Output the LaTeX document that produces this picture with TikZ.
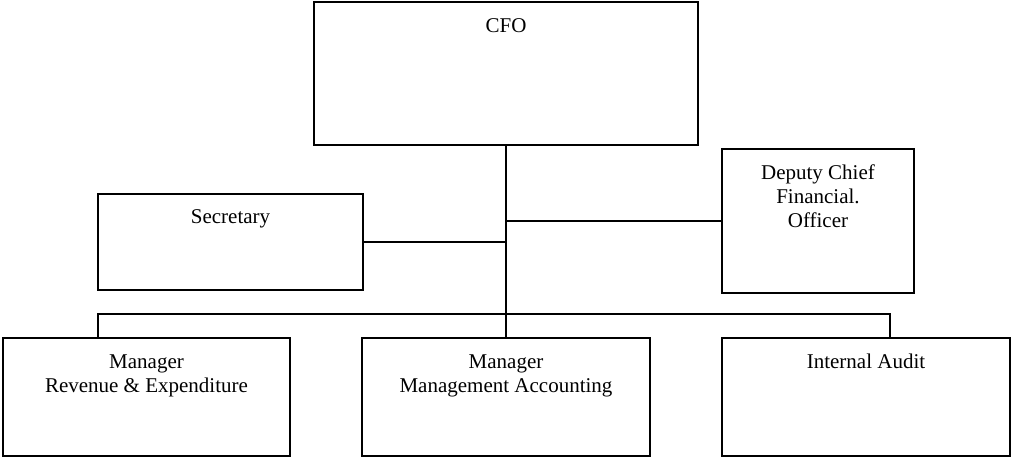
\documentclass[tikz,border=0pt]{standalone}
\usepackage{fontspec}
\setmainfont{Liberation Serif}
\begin{document}
\begin{tikzpicture}[x=1pt,y=-1pt,
  orgbox/.style={draw=black,line width=1.4pt,rectangle,inner sep=0pt,outer sep=0pt},
  label text/.style={anchor=base,align=center,inner sep=0pt,font=\fontsize{21}{24}\selectfont},
  link/.style={draw=black,line width=1.4pt}]
\useasboundingbox (0,0) rectangle (1012,458);

% boxes
\node[orgbox,minimum width=384pt,minimum height=143pt] (cfo) at (506,73.5) {};
\node[orgbox,minimum width=265pt,minimum height=96pt] (sec) at (230.5,242) {};
\node[orgbox,minimum width=192pt,minimum height=144pt] (dep) at (818,221) {};
\node[orgbox,minimum width=287pt,minimum height=118pt] (rev) at (146.5,397) {};
\node[orgbox,minimum width=288pt,minimum height=118pt] (mgmt) at (506,397) {};
\node[orgbox,minimum width=288pt,minimum height=118pt] (audit) at (866,397) {};

% titles (base anchor sits on the last line of each title)
\node[label text] (tcfo) at (506,32.7) {CFO};
\node[label text] (tsec) at (230.5,223.3) {Secretary};
\node[label text] (tdep) at (818,227.5) {Deputy Chief\\Financial.\\Officer};
\node[label text] (trev) at (146.5,392) {Manager\\Revenue \& Expenditure};
\node[label text] (tmgmt) at (506,392) {Manager\\Management Accounting};
\node[label text] (taudit) at (866,368.3) {Internal Audit};

% bus coordinates
\coordinate (busmid) at (506,314);
\coordinate (busL) at (98,314);
\coordinate (busR) at (890,314);

% connectors
\draw[link] (cfo.south) -- (busmid);
\draw[link] (sec.east) -- (sec.east -| busmid);
\draw[link] (dep.west) -- (dep.west -| busmid);
\draw[link] (busL |- rev.north) -- (busL) -- (busR) -- (busR |- audit.north);
\draw[link] (busmid) -- (mgmt.north);
\end{tikzpicture}
\end{document}
